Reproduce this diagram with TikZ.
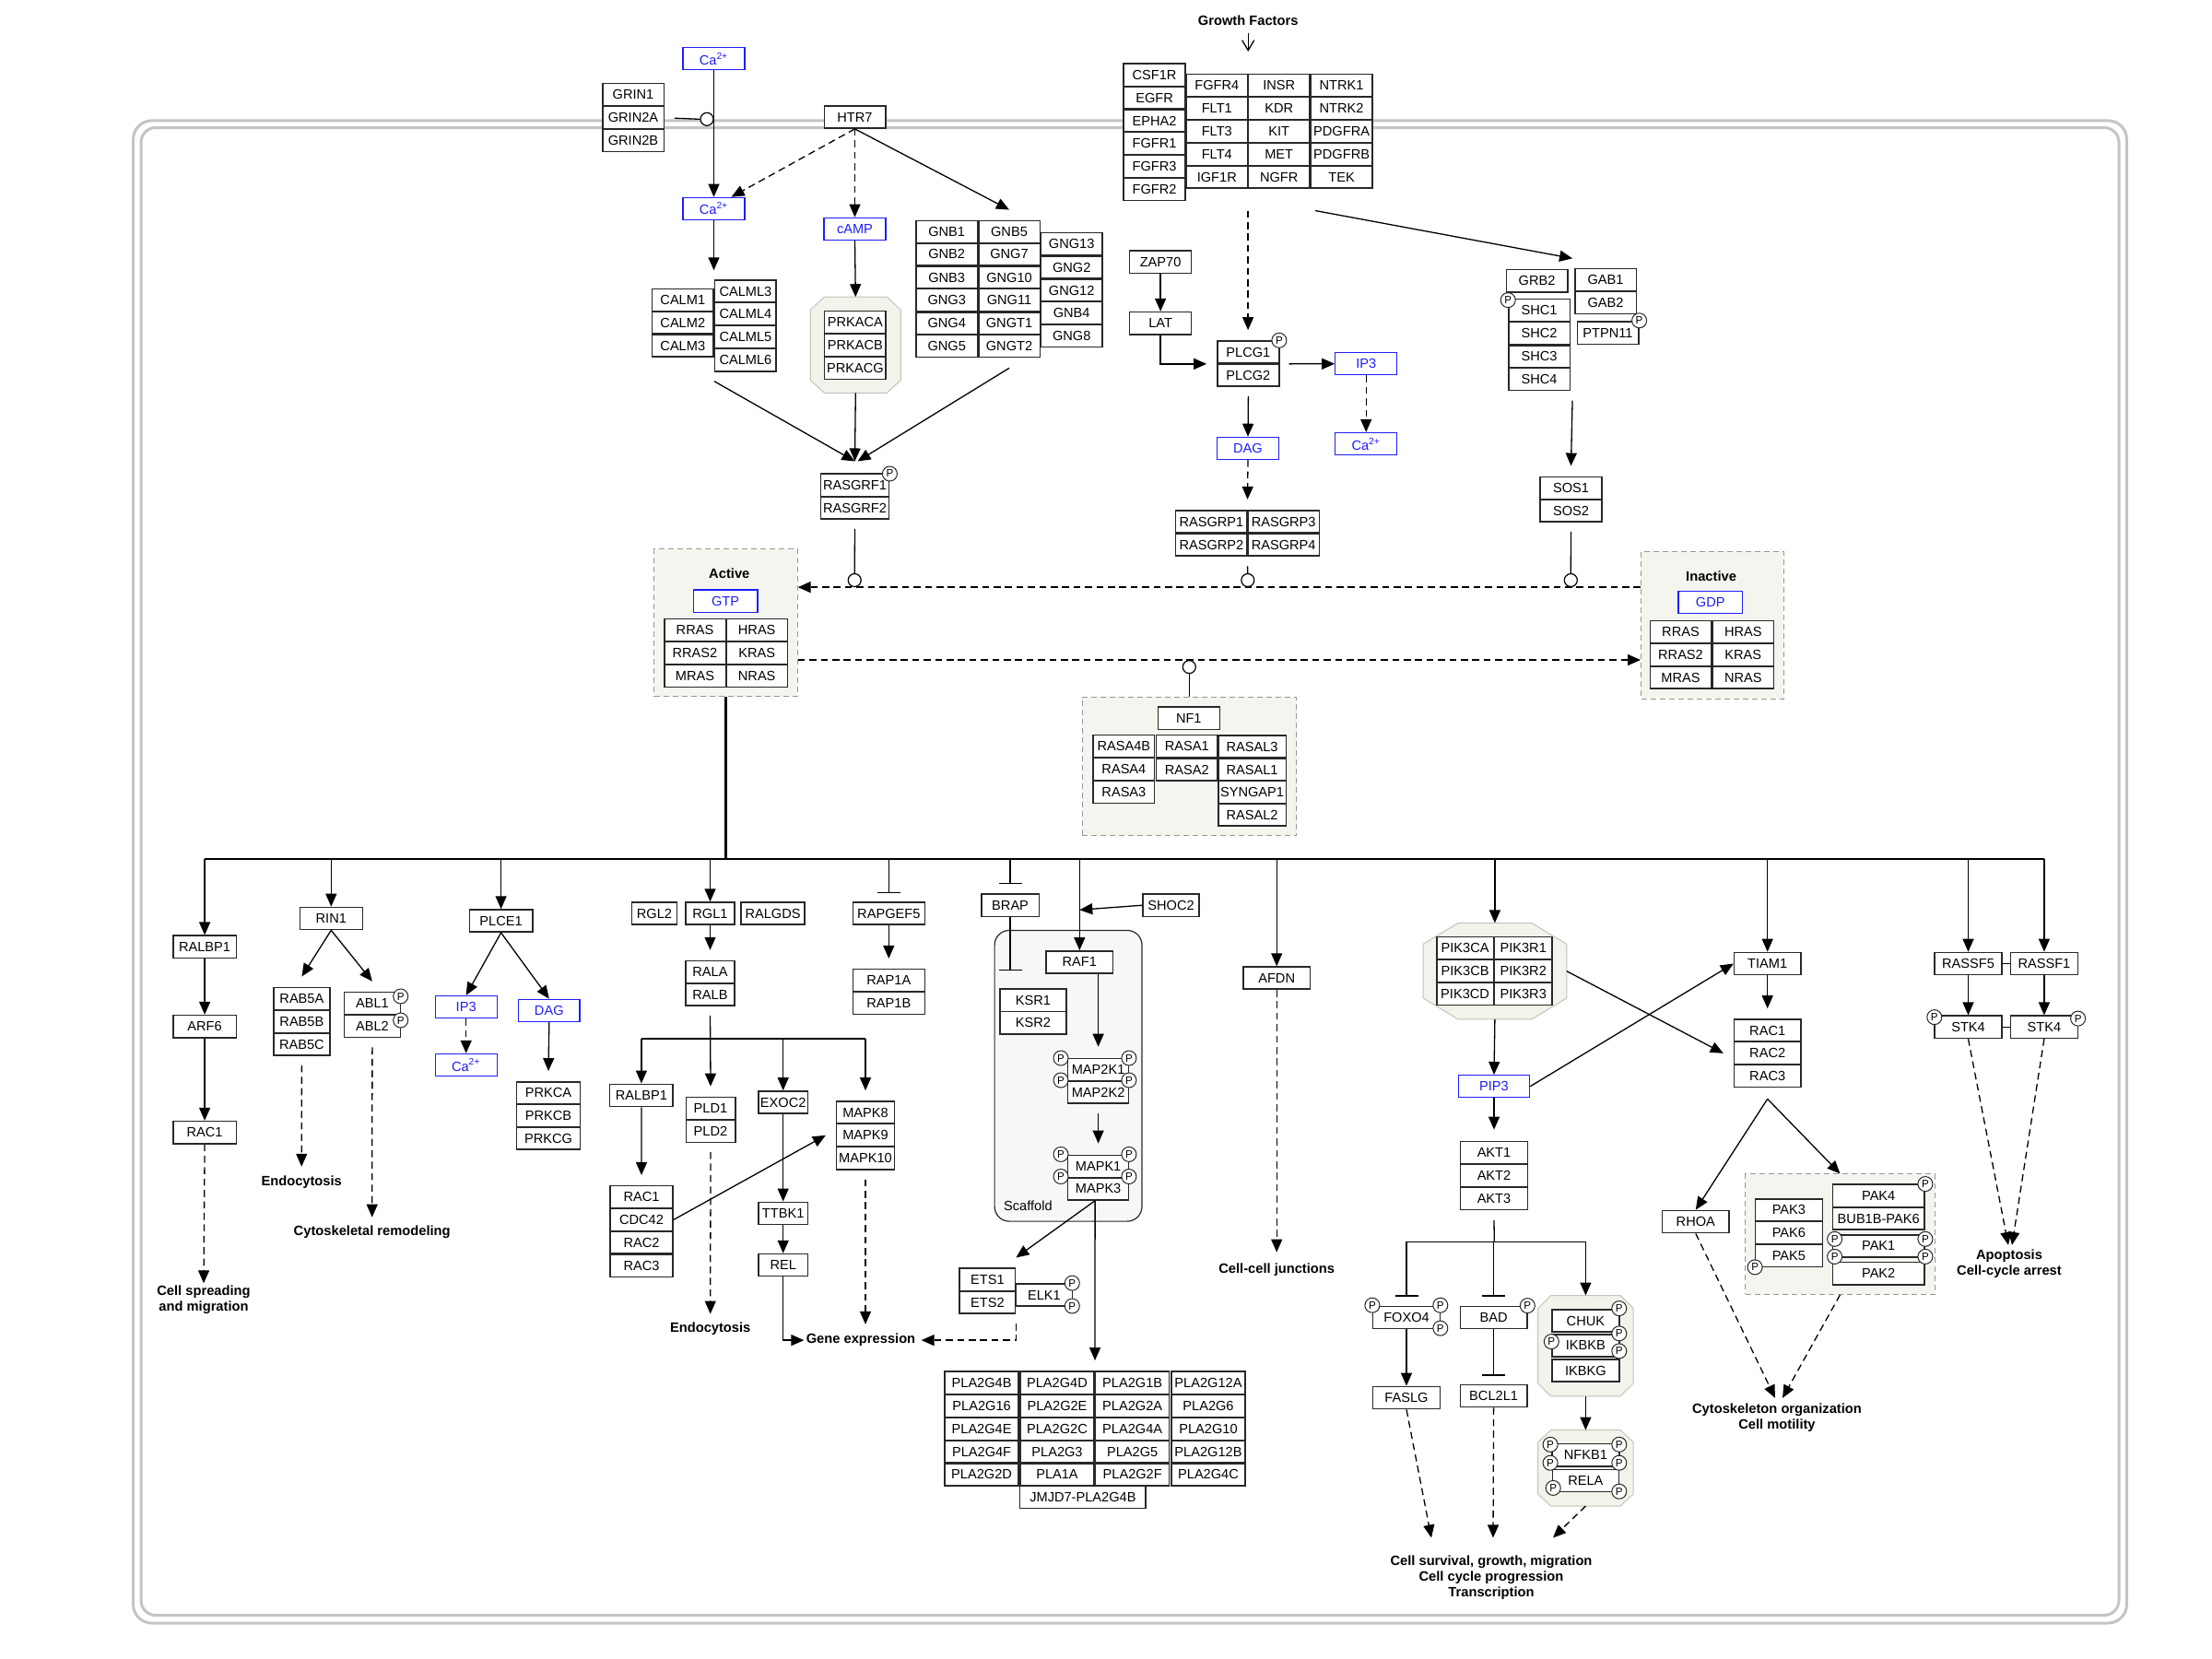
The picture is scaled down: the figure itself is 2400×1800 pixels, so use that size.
\documentclass[tikz,border=0pt]{standalone}
\usepackage{fontspec}
\setmainfont{Liberation Sans}
\usetikzlibrary{arrows.meta,fit,calc}

\definecolor{metab}{RGB}{30,30,250}
\definecolor{membrane}{RGB}{196,196,196}
\definecolor{grpfill}{RGB}{245,245,240}
\definecolor{grpline}{RGB}{150,150,150}
\definecolor{cpxfill}{RGB}{243,243,236}
\definecolor{cpxline}{RGB}{195,195,188}
\definecolor{scafill}{RGB}{247,247,247}
\definecolor{boxline}{RGB}{40,40,40}

\newcommand\gfont{\fontsize{7.3}{8.4}\selectfont}
\newcommand\lfont{\fontsize{7.35}{8.4}\selectfont\bfseries}
\newcommand\caion{Ca\textsuperscript{2+}}

\tikzset{
  gbox/.style={draw=boxline, line width=0.75pt, fill=white, inner sep=0pt,
    minimum height=12.1pt, minimum width={#1*0.5pt}, font=\gfont},
  gbox/.default=66.5,
  mbox/.style={gbox=#1, draw=metab, text=metab, line width=0.6pt},
  mbox/.default=67,
  lbl/.style={font=\lfont, align=center, inner sep=1pt},
  pcirc/.style={circle, draw=boxline, line width=0.5pt, fill=white, inner sep=0pt,
    minimum size=8pt, font=\fontsize{5.8}{6}\selectfont},
  ocirc/.style={circle, draw=black, line width=0.6pt, fill=white, inner sep=0pt, minimum size=7pt},
  conn/.style={line width=0.65pt, draw=black},
  arr/.style={conn, -{Triangle[length=7pt,width=6pt]}},
  darr/.style={arr, dash pattern=on 3.8pt off 2.4pt},
  inh/.style={conn, -{Bar[width=12.5pt]}},
  grpstyle/.style={draw=grpline, fill=grpfill, line width=0.5pt, dash pattern=on 3pt off 2pt, inner sep=0pt},
  cpxstyle/.style={draw=cpxline, fill=cpxfill, line width=0.5pt},
}

% octagonal complex background with a named frame node
\newcommand\cplxbox[7]{%
  \coordinate (#1-a) at (#2,#3);
  \coordinate (#1-b) at (#4,#5);
  \node[fit=(#1-a)(#1-b), inner sep=0pt] (#1) {};
  \filldraw[cpxstyle] ($(#1.north west)+(#6,0)$) -- ($(#1.north east)+(-#6,0)$)
    -- ($(#1.north east)+(0,#7)$) -- ($(#1.south east)+(0,-#7)$)
    -- ($(#1.south east)+(-#6,0)$) -- ($(#1.south west)+(#6,0)$)
    -- ($(#1.south west)+(0,-#7)$) -- ($(#1.north west)+(0,#7)$) -- cycle;}
% dashed group box
\newcommand\grpbox[5]{%
  \coordinate (#1-a) at (#2,#3);
  \coordinate (#1-b) at (#4,#5);
  \node[grpstyle, fit=(#1-a)(#1-b)] (#1) {};}
% phosphorylation mark
\newcommand\phos[3]{\node[pcirc] (#1) at (#2,#3) {P};}

\begin{document}
\begin{tikzpicture}[x=0.5pt, y=-0.5pt]
\useasboundingbox (0,0) rectangle (2400,1800);

% ---------- cell membrane ----------
\draw[membrane, line width=1.5pt, rounded corners=10pt] (144.6,130.9) rectangle (2307.4,1761);
\draw[membrane, line width=1.5pt, rounded corners=8pt] (153,138.5) rectangle (2299,1752.5);

% ---------- backgrounds ----------
\grpbox{active}{709.8}{595.8}{865.2}{755.7}
\grpbox{inactive}{1780.5}{598}{1935.1}{758}
\grpbox{gapgrp}{1174}{756.1}{1406.6}{906.9}
\grpbox{pakgrp}{1893.8}{1273.9}{2099.2}{1404.3}
\coordinate (scf-a) at (1079.1,1009.4);
\coordinate (scf-b) at (1239,1325.1);
\node[draw=boxline, line width=0.6pt, fill=scafill, rounded corners=8pt, inner sep=0pt,
  fit=(scf-a)(scf-b)] (scaffold) {};
\node[font=\gfont, inner sep=0pt] (scaflbl) at (1115.4,1308.3) {Scaffold};
\cplxbox{prkcx}{879.7}{322.6}{976.9}{425.9}{15}{14}
\cplxbox{pik3}{1544.4}{1001.8}{1699.4}{1105.5}{38}{23}
\cplxbox{chukcx}{1669.1}{1405.9}{1771.7}{1514.5}{14}{14}
\cplxbox{nfkbcx}{1669.1}{1552}{1771.7}{1633.6}{14}{13}

% ---------- top left: calcium, HTR7 ----------
\node[mbox] (ca1) at (774.5,63.7) {\caion};
\node[gbox] (grin1) at (687,102.7) {GRIN1};
\node[gbox] (grin2a) at (687,127.8) {GRIN2A};
\node[gbox] (grin2b) at (687,152.4) {GRIN2B};
\node[gbox] (htr7) at (927.5,127) {HTR7};
\node[mbox] (ca2) at (774.5,226.4) {\caion};
\node[mbox] (camp) at (927.5,248.3) {cAMP};
\node[gbox] (calm1) at (740.8,325.4) {CALM1};
\node[gbox] (calm2) at (740.8,350.1) {CALM2};
\node[gbox] (calm3) at (740.8,375) {CALM3};
\node[gbox] (calml3) at (808.9,316.1) {CALML3};
\node[gbox] (calml4) at (808.9,340.6) {CALML4};
\node[gbox] (calml5) at (808.9,365.8) {CALML5};
\node[gbox] (calml6) at (808.9,390.8) {CALML6};
\node[gbox] (prkaca) at (927.9,349.7) {PRKACA};
\node[gbox] (prkacb) at (927.9,374.8) {PRKACB};
\node[gbox] (prkacg) at (927.9,399.5) {PRKACG};
\node[gbox] (gnb1) at (1027.2,251.4) {GNB1};
\node[gbox] (gnb2) at (1027.2,275.9) {GNB2};
\node[gbox] (gnb3) at (1027.2,301.1) {GNB3};
\node[gbox] (gng3) at (1027.2,325.6) {GNG3};
\node[gbox] (gng4) at (1027.2,350.9) {GNG4};
\node[gbox] (gng5) at (1027.2,375.5) {GNG5};
\node[gbox] (gnb5) at (1095,251.4) {GNB5};
\node[gbox] (gng7) at (1095,275.9) {GNG7};
\node[gbox] (gng10) at (1095,301.1) {GNG10};
\node[gbox] (gng11) at (1095,325.6) {GNG11};
\node[gbox] (gngt1) at (1095,350.9) {GNGT1};
\node[gbox] (gngt2) at (1095,375.5) {GNGT2};
\node[gbox] (gng13) at (1162.7,264.8) {GNG13};
\node[gbox] (gng2) at (1162.7,290) {GNG2};
\node[gbox] (gng12) at (1162.7,315) {GNG12};
\node[gbox] (gnb4) at (1162.7,339.8) {GNB4};
\node[gbox] (gng8) at (1162.7,364.3) {GNG8};
\node[gbox=74.3] (rasgrf1) at (927.5,526.3) {RASGRF1};
\node[gbox=74.3] (rasgrf2) at (927.5,551) {RASGRF2};
\phos{p-rasgrf1}{965.4}{514}

% ---------- top centre: receptor tyrosine kinases ----------
\node[lbl] (gf) at (1354.2,22.2) {Growth Factors};
\node[gbox=67] (csf1r) at (1252.6,81.2) {CSF1R};
\node[gbox=67] (egfr) at (1252.6,106) {EGFR};
\node[gbox=67] (epha2) at (1252.6,130.9) {EPHA2};
\node[gbox=67] (fgfr1) at (1252.6,155.7) {FGFR1};
\node[gbox=67] (fgfr3) at (1252.6,180.3) {FGFR3};
\node[gbox=67] (fgfr2) at (1252.6,205.3) {FGFR2};
\node[gbox=67] (fgfr4) at (1320.3,92.6) {FGFR4};
\node[gbox=67] (flt1) at (1320.3,117.5) {FLT1};
\node[gbox=67] (flt3) at (1320.3,142.4) {FLT3};
\node[gbox=67] (flt4) at (1320.3,167.2) {FLT4};
\node[gbox=67] (igf1r) at (1320.3,192.1) {IGF1R};
\node[gbox=67] (insr) at (1387.7,92.6) {INSR};
\node[gbox=67] (kdr) at (1387.7,117.5) {KDR};
\node[gbox=67] (kit) at (1387.7,142.4) {KIT};
\node[gbox=67] (met) at (1387.7,167.2) {MET};
\node[gbox=67] (ngfr) at (1387.7,192.1) {NGFR};
\node[gbox=67] (ntrk1) at (1455.6,92.6) {NTRK1};
\node[gbox=67] (ntrk2) at (1455.6,117.5) {NTRK2};
\node[gbox=67] (pdgfra) at (1455.6,142.4) {PDGFRA};
\node[gbox=67] (pdgfrb) at (1455.6,167.2) {PDGFRB};
\node[gbox=67] (tek) at (1455.6,192.1) {TEK};
\node[fit=(csf1r)(fgfr2)(ntrk1)(tek), inner sep=0pt] (rtk) {};

\node[gbox=67] (zap70) at (1259.1,284.3) {ZAP70};
\node[gbox=67] (lat) at (1259.1,350.7) {LAT};
\node[gbox=67] (plcg1) at (1354.4,382) {PLCG1};
\node[gbox=67] (plcg2) at (1354.4,407) {PLCG2};
\phos{p-plcg1}{1387.9}{369.3}
\node[mbox] (ip3r) at (1482.2,394.7) {IP3};
\node[mbox] (car) at (1482.2,481.6) {\caion};
\node[mbox] (dagr) at (1354,486.4) {DAG};
\node[gbox=77.5] (rasgrp1) at (1314.4,566.1) {RASGRP1};
\node[gbox=77.5] (rasgrp3) at (1392.7,566.1) {RASGRP3};
\node[gbox=77.5] (rasgrp2) at (1314.4,591) {RASGRP2};
\node[gbox=77.5] (rasgrp4) at (1392.7,591) {RASGRP4};
\node[fit=(rasgrp1)(rasgrp4), inner sep=0pt] (rasgrp) {};

% ---------- adaptors ----------
\node[gbox] (grb2) at (1667.6,304.8) {GRB2};
\node[gbox] (shc1) at (1670.1,336.7) {SHC1};
\node[gbox] (shc2) at (1670.1,361.6) {SHC2};
\node[gbox] (shc3) at (1670.1,386.9) {SHC3};
\node[gbox] (shc4) at (1670.1,411.4) {SHC4};
\phos{p-shc1}{1636.2}{325.6}
\node[gbox] (gab1) at (1742,303.6) {GAB1};
\node[gbox] (gab2) at (1742,328.3) {GAB2};
\node[gbox] (ptpn11) at (1744.5,361.2) {PTPN11};
\phos{p-ptpn11}{1778.6}{347.8}
\node[fit=(grb2)(shc4)(gab1)(ptpn11), inner sep=0pt] (adaptor) {};
\node[gbox=67] (sos1) at (1704.5,529.4) {SOS1};
\node[gbox=67] (sos2) at (1704.5,554.1) {SOS2};

% ---------- RAS cycle ----------
\node[lbl] (actlbl) at (791.3,621.8) {Active};
\node[mbox=69.6] (gtp) at (787.1,652) {GTP};
\node[gbox] (rrasA) at (754,683.5) {RRAS};
\node[gbox] (hrasA) at (821.2,683.5) {HRAS};
\node[gbox] (rras2A) at (754,708.5) {RRAS2};
\node[gbox] (krasA) at (821.2,708.5) {KRAS};
\node[gbox] (mrasA) at (754,733.3) {MRAS};
\node[gbox] (nrasA) at (821.2,733.3) {NRAS};
\node[lbl] (inactlbl) at (1856.6,624.9) {Inactive};
\node[mbox=69.7] (gdp) at (1855.8,653.5) {GDP};
\node[gbox] (rrasI) at (1823.5,685.5) {RRAS};
\node[gbox] (hrasI) at (1891.3,685.5) {HRAS};
\node[gbox] (rras2I) at (1823.5,710.2) {RRAS2};
\node[gbox] (krasI) at (1891.3,710.2) {KRAS};
\node[gbox] (mrasI) at (1823.5,735) {MRAS};
\node[gbox] (nrasI) at (1891.3,735) {NRAS};
\node[gbox=67] (nf1) at (1289.8,779.2) {NF1};
\node[gbox] (rasa4b) at (1219.4,809.7) {RASA4B};
\node[gbox] (rasa4) at (1219.4,834.5) {RASA4};
\node[gbox] (rasa3) at (1219.4,859.5) {RASA3};
\node[gbox] (rasa1) at (1287.8,809.7) {RASA1};
\node[gbox] (rasa2) at (1287.8,835) {RASA2};
\node[gbox=73.5] (rasal3) at (1358.5,810) {RASAL3};
\node[gbox=73.5] (rasal1) at (1358.5,835) {RASAL1};
\node[gbox=73.5] (syngap1) at (1358.5,859.5) {SYNGAP1};
\node[gbox=73.5] (rasal2) at (1358.5,884.1) {RASAL2};
\node[ocirc] (c1) at (927.2,629.5) {};
\node[ocirc] (c2) at (1353.8,629.5) {};
\node[ocirc] (c3) at (1704.3,629.5) {};
\node[ocirc] (c4) at (1290.3,723.6) {};
\node[ocirc] (c0) at (767,129.3) {};
\coordinate (bus) at (221.9,931.8);

% ---------- effectors, left ----------
\node[gbox=68.5] (ralbp1a) at (222.1,1027.3) {RALBP1};
\node[gbox=68.5] (arf6) at (222.1,1113.7) {ARF6};
\node[gbox=68.5] (rac1a) at (222.1,1228.7) {RAC1};
\node[lbl] (spread) at (221,1410) {Cell spreading\\and migration};
\node[gbox=68] (rin1) at (359.3,996.5) {RIN1};
\node[gbox=61] (rab5a) at (327.4,1083.4) {RAB5A};
\node[gbox=61] (rab5b) at (327.4,1108.2) {RAB5B};
\node[gbox=61] (rab5c) at (327.4,1133) {RAB5C};
\node[gbox=60.8] (abl1) at (403.9,1088.6) {ABL1};
\node[gbox=60.8] (abl2) at (403.9,1113.6) {ABL2};
\phos{p-abl1}{434.7}{1081}
\phos{p-abl2}{434.7}{1107}
\node[lbl] (endoA) at (327.2,1283) {Endocytosis};
\node[lbl] (cytorem) at (403.7,1337) {Cytoskeletal remodeling};
\node[gbox=68.5] (plce1) at (543.6,999.1) {PLCE1};
\node[mbox] (ip3l) at (505.7,1092.6) {IP3};
\node[mbox] (cal) at (505.7,1155.5) {\caion};
\node[mbox=66.5] (dagl) at (595.8,1096.3) {DAG};
\node[gbox=69] (prkca) at (595,1185.9) {PRKCA};
\node[gbox=69] (prkcb) at (595,1210.7) {PRKCB};
\node[gbox=69] (prkcg) at (595,1235) {PRKCG};

\node[gbox=48.6] (rgl2) at (710,991.1) {RGL2};
\node[gbox=53.2] (rgl1) at (770.5,991.1) {RGL1};
\node[gbox=69.2] (ralgds) at (838.6,991.1) {RALGDS};
\node[gbox=53.2] (rala) at (770.5,1054.6) {RALA};
\node[gbox=53.2] (ralb) at (770.5,1079.1) {RALB};
\node[gbox=68.5] (ralbp1b) at (695.9,1188.4) {RALBP1};
\node[gbox=53.5] (pld1) at (771,1202.5) {PLD1};
\node[gbox=53.5] (pld2) at (771,1227.2) {PLD2};
\node[gbox=53.2] (exoc2) at (849.7,1196) {EXOC2};
\node[gbox=62.7] (mapk8) at (939,1207) {MAPK8};
\node[gbox=62.7] (mapk9) at (939,1231.8) {MAPK9};
\node[gbox=62.7] (mapk10) at (939,1256.7) {MAPK10};
\node[gbox=68.1] (rac1b) at (696,1298.8) {RAC1};
\node[gbox=68.1] (cdc42) at (696,1323.4) {CDC42};
\node[gbox=68.1] (rac2b) at (696,1348.1) {RAC2};
\node[gbox=68.1] (rac3b) at (696,1373.2) {RAC3};
\node[gbox=53.2] (ttbk1) at (849.7,1316.4) {TTBK1};
\node[gbox=53.2] (rel) at (849.7,1372.6) {REL};
\node[lbl] (endoB) at (770.7,1441.8) {Endocytosis};
\node[lbl] (geneexp) at (934,1454.1) {Gene expression};

\node[gbox=78] (rapgef5) at (964.3,991.1) {RAPGEF5};
\node[gbox=78] (rap1a) at (964.3,1063.8) {RAP1A};
\node[gbox=78] (rap1b) at (964.3,1088.3) {RAP1B};

% ---------- MAPK cascade ----------
\node[gbox=62.4] (brap) at (1096.1,982.2) {BRAP};
\node[gbox=60.8] (shoc2) at (1270.6,982.2) {SHOC2};
\node[gbox=72.8] (raf1) at (1171.3,1043.9) {RAF1};
\node[gbox=72.4] (ksr1) at (1121,1085.2) {KSR1};
\node[gbox=72.4] (ksr2) at (1121,1109.7) {KSR2};
\node[gbox=65.8] (map2k1) at (1191.6,1160.5) {MAP2K1};
\node[gbox=65.8] (map2k2) at (1191.6,1185) {MAP2K2};
\phos{p-map2k1a}{1151}{1148}
\phos{p-map2k1b}{1224.9}{1148}
\phos{p-map2k2a}{1151}{1172}
\phos{p-map2k2b}{1224.9}{1172}
\node[gbox=65.8] (mapk1) at (1191.6,1265.4) {MAPK1};
\node[gbox=65.8] (mapk3) at (1191.6,1289.9) {MAPK3};
\phos{p-mapk1a}{1151}{1252.4}
\phos{p-mapk1b}{1224.9}{1252.4}
\phos{p-mapk3a}{1151}{1276.5}
\phos{p-mapk3b}{1224.9}{1276.5}
\node[gbox=60.5] (ets1) at (1071.4,1388.3) {ETS1};
\node[gbox=60.5] (ets2) at (1071.4,1413.1) {ETS2};
\node[gbox=61] (elk1) at (1132.9,1405.1) {ELK1};
\phos{p-elk1a}{1163.3}{1392.1}
\phos{p-elk1b}{1163.3}{1417}

\node[gbox=80] (pla2g4b) at (1065.1,1500.3) {PLA2G4B};
\node[gbox=80] (pla2g16) at (1065.1,1525.3) {PLA2G16};
\node[gbox=80] (pla2g4e) at (1065.1,1550.2) {PLA2G4E};
\node[gbox=80] (pla2g4f) at (1065.1,1575) {PLA2G4F};
\node[gbox=80] (pla2g2d) at (1065.1,1599.9) {PLA2G2D};
\node[gbox=80] (pla2g4d) at (1147,1500.3) {PLA2G4D};
\node[gbox=80] (pla2g2e) at (1147,1525.3) {PLA2G2E};
\node[gbox=80] (pla2g2c) at (1147,1550.2) {PLA2G2C};
\node[gbox=80] (pla2g3) at (1147,1575) {PLA2G3};
\node[gbox=80] (pla1a) at (1147,1599.9) {PLA1A};
\node[gbox=80] (pla2g1b) at (1228.7,1500.3) {PLA2G1B};
\node[gbox=80] (pla2g2a) at (1228.7,1525.3) {PLA2G2A};
\node[gbox=80] (pla2g4a) at (1228.7,1550.2) {PLA2G4A};
\node[gbox=80] (pla2g5) at (1228.7,1575) {PLA2G5};
\node[gbox=80] (pla2g2f) at (1228.7,1599.9) {PLA2G2F};
\node[gbox=80] (pla2g12a) at (1311,1500.3) {PLA2G12A};
\node[gbox=80] (pla2g6) at (1311,1525.3) {PLA2G6};
\node[gbox=80] (pla2g10) at (1311,1550.2) {PLA2G10};
\node[gbox=80] (pla2g12b) at (1311,1575) {PLA2G12B};
\node[gbox=80] (pla2g4c) at (1311,1599.9) {PLA2G4C};
\node[gbox=136.6] (jmjd7) at (1174.9,1624.5) {JMJD7-PLA2G4B};
\node[fit=(pla2g4b)(pla2g12a)(pla2g2d)(jmjd7), inner sep=0pt] (pla2) {};

% ---------- effectors, right ----------
\node[gbox=72.7] (afdn) at (1385.2,1061.1) {AFDN};
\node[lbl] (junctions) at (1385.2,1377.9) {Cell-cell junctions};
\node[gbox=61.3] (pik3ca) at (1589.6,1028.8) {PIK3CA};
\node[gbox=61.3] (pik3cb) at (1589.6,1053.6) {PIK3CB};
\node[gbox=61.3] (pik3cd) at (1589.6,1078.5) {PIK3CD};
\node[gbox=62.7] (pik3r1) at (1652.7,1028.8) {PIK3R1};
\node[gbox=62.7] (pik3r2) at (1652.7,1053.6) {PIK3R2};
\node[gbox=62.7] (pik3r3) at (1652.7,1078.5) {PIK3R3};
\node[mbox=77.3] (pip3) at (1621,1178.7) {PIP3};
\node[gbox=72.7] (akt1) at (1621,1250.5) {AKT1};
\node[gbox=72.7] (akt2) at (1621,1275.4) {AKT2};
\node[gbox=72.7] (akt3) at (1621,1300.2) {AKT3};
\node[gbox=72.7] (foxo4) at (1526,1429.4) {FOXO4};
\phos{p-foxo4a}{1488.9}{1416.2}
\phos{p-foxo4b}{1562.8}{1416.2}
\phos{p-foxo4c}{1562.8}{1441.1}
\node[gbox=72.7] (bad) at (1620.6,1429.4) {BAD};
\phos{p-bad}{1657.3}{1416.6}
\node[gbox=72.7] (fasl) at (1526,1516.5) {FASLG};
\node[gbox=72.7] (bcl2l1) at (1620.6,1514.5) {BCL2L1};
\node[gbox=72.8] (chuk) at (1720.4,1433) {CHUK};
\node[gbox=72.8] (ikbkb) at (1720.4,1459.9) {IKBKB};
\node[gbox=72.8] (ikbkg) at (1720.4,1487) {IKBKG};
\phos{p-chuk}{1756.8}{1419.6}
\phos{p-ikbkba}{1756.8}{1446.8}
\phos{p-ikbkbb}{1683.3}{1455.6}
\phos{p-ikbkbc}{1756.8}{1465.9}
\node[gbox=72.8] (nfkb1) at (1720.4,1578.8) {NFKB1};
\node[gbox=72] (rela) at (1720.4,1606.6) {RELA};
\phos{p-nfkb1a}{1682.1}{1567.3}
\phos{p-nfkb1b}{1756.8}{1567.3}
\phos{p-nfkb1c}{1682.1}{1587.2}
\phos{p-nfkb1d}{1756.8}{1587.2}
\phos{p-relaa}{1685.2}{1614.4}
\phos{p-relab}{1756.8}{1618.2}
\node[lbl] (surv) at (1618,1711.5) {Cell survival, growth, migration\\Cell cycle progression\\Transcription};

\node[gbox=72.3] (tiam1) at (1917.7,1045.5) {TIAM1};
\node[gbox=72.3] (rac1c) at (1917.7,1118) {RAC1};
\node[gbox=72.3] (rac2c) at (1917.7,1142.8) {RAC2};
\node[gbox=72.3] (rac3c) at (1917.7,1167.5) {RAC3};
\node[gbox=72.7] (rhoa) at (1839.8,1325.5) {RHOA};
\node[gbox=72.7] (pak3) at (1940.9,1312.9) {PAK3};
\node[gbox=72.7] (pak6) at (1940.9,1337.7) {PAK6};
\node[gbox=72.7] (pak5) at (1940.9,1362.6) {PAK5};
\phos{p-pak5}{1904.1}{1374.9}
\node[gbox=99.8] (pak4) at (2038.2,1297.2) {PAK4};
\node[gbox=99.8] (bub1b) at (2038.2,1322.1) {BUB1B-PAK6};
\node[gbox=99.8] (pak1) at (2038.2,1351.9) {PAK1};
\node[gbox=99.8] (pak2) at (2038.2,1381.8) {PAK2};
\phos{p-pak4}{2088.9}{1284.6}
\phos{p-pak1a}{1990.6}{1344.3}
\phos{p-pak1b}{2088.9}{1344.3}
\phos{p-pak1c}{1990.6}{1363.4}
\phos{p-pak1d}{2088.9}{1363.4}
\node[lbl] (cyto) at (1928,1538.5) {Cytoskeleton organization\\Cell motility};

\node[gbox=72.7] (rassf5) at (2135.5,1045.5) {RASSF5};
\node[gbox=72.7] (rassf1) at (2217.9,1045.5) {RASSF1};
\node[gbox=72.7] (stk4a) at (2135.5,1114.3) {STK4};
\node[gbox=72.7] (stk4b) at (2217.9,1114.3) {STK4};
\phos{p-stk4a}{2098.8}{1103.6}
\phos{p-stk4b}{2254.6}{1105.1}
\node[lbl] (apop) at (2180,1371.5) {Apoptosis\\Cell-cycle arrest};

% ================= connectors =================
% calcium / HTR7
\draw[arr] (ca1.south) -- (ca2.north);
\draw[conn, shorten <=5.5pt] (grin2a.east) -- (c0.west);
\draw[darr] (htr7.south) -- ($(ca2.north east)+(-15,0)$);
\draw[darr] (htr7.south) -- (camp.north);
\draw[arr] (htr7.south) -- ($(gnb5.north)+(0,-11)$);
\draw[arr] (ca2.south) -- ($(ca2.south |- calml3.north)+(0,-10)$);
\draw[arr] (camp.south) -- (prkcx.north);
\draw[arr] ($(calml6.south west)+(0,10)$) -- ($(rasgrf1.north)+(0,-13)$);
\draw[arr] (prkcx.south) -- ($(rasgrf1.north)+(0,-13)$);
\draw[arr] ($(gngt2.south)+(0,11)$) -- ($(rasgrf1.north)+(3,-13)$);
\draw[conn] ($(rasgrf2.south)+(0,10)$) -- (c1.north);

% growth factor receptors
\draw[conn, -{Straight Barb[length=5.5pt,width=6.5pt]}, shorten <=3pt] (gf.south) -- ($(gf.south |- rtk.north)+(0,-12)$);
\draw[darr] ($(rtk.south)+(0,10)$) -- ($(rtk.south |- plcg1.north)+(0,-11)$);
\draw[arr] ($(rtk.south)+(73,10)$) -- ($(adaptor.north)+(0,-10)$);
\draw[arr] (zap70.south) -- (lat.north);
\draw[arr] (lat.south) |- ($(plcg1.south west)+(-11,0)$);
\draw[arr] ($(plcg1.south east)+(10,0)$) -- (ip3r.west);
\draw[darr] (ip3r.south) -- (car.north);
\draw[arr] ($(plcg2.south)+(0,10)$) -- (dagr.north);
\draw[darr] (dagr.south) -- ($(rasgrp.north)+(0,-11)$);
\draw[conn] ($(rasgrp.south)+(0,10)$) -- (c2.north);
\draw[arr] ($(adaptor.south)+(0,10)$) -- ($(sos1.north)+(0,-11)$);
\draw[conn] ($(sos2.south)+(0,10)$) -- (c3.north);

% RAS GDP/GTP cycle
\draw[darr] (inactive.west |- c1.south) -- (active.east |- c1.south);
\draw[darr] (active.east |- c4.north) -- (inactive.west |- c4.north);
\draw[conn] (gapgrp.north) -- (c4.south);

% RAS effector bus
\draw[conn, line width=1.1pt] (active.south) -- (active.south |- bus);
\draw[conn, line width=1.1pt] (ralbp1a.north |- bus) -- (rassf1.north |- bus);
\draw[arr] (ralbp1a.north |- bus) -- (ralbp1a.north);
\draw[arr] (rin1.north |- bus) -- (rin1.north);
\draw[arr] (plce1.north |- bus) -- (plce1.north);
\draw[arr] (rgl1.north |- bus) -- (rgl1.north);
\draw[inh, shorten >=4.6pt] (rapgef5.north |- bus) -- (rapgef5.north);
\draw[inh, shorten >=5pt] (brap.north |- bus) -- (brap.north);
\draw[arr] (raf1.north |- bus) -- (raf1.north);
\draw[arr] (afdn.north |- bus) -- (afdn.north);
\draw[arr] (pik3.north |- bus) -- (pik3.north);
\draw[arr] (tiam1.north |- bus) -- (tiam1.north);
\draw[arr] (rassf5.north |- bus) -- (rassf5.north);
\draw[arr] (rassf1.north |- bus) -- (rassf1.north);

% RALBP1 / RIN1 / PLCE1
\draw[arr] (ralbp1a.south) -- (arf6.north);
\draw[arr] (arf6.south) -- (rac1a.north);
\draw[darr] (rac1a.south) -- (spread.north);
\draw[arr] (rin1.south) -- ($(rab5a.north)+(0,-11)$);
\draw[arr] (rin1.south) -- ($(abl1.north)+(0,-11)$);
\draw[darr, shorten >=4pt] ($(rab5c.south)+(0,10)$) -- (endoA.north);
\draw[darr, shorten >=3.5pt] ($(abl2.south)+(0,10)$) -- (cytorem.north);
\draw[arr] (plce1.south) -- (ip3l.north);
\draw[arr] (plce1.south) -- (dagl.north);
\draw[darr] (ip3l.south) -- (cal.north);
\draw[arr] (dagl.south) -- ($(prkca.north)+(0,-11)$);

% RAL GEFs
\draw[arr] (rgl1.south) -- ($(rala.north)+(0,-11)$);
\coordinate (ralj) at (770.7,1126.9);
\draw[conn] ($(ralb.south)+(0,10)$) -- (ralj);
\draw[conn] (ralbp1b.north |- ralj) -- (mapk8.north |- ralj);
\draw[arr] (ralbp1b.north |- ralj) -- (ralbp1b.north);
\draw[arr] (ralj) -- ($(pld1.north)+(0,-11)$);
\draw[arr] (exoc2.north |- ralj) -- (exoc2.north);
\draw[arr] (mapk8.north |- ralj) -- ($(mapk8.north)+(0,-11)$);
\draw[arr] (ralbp1b.south) -- ($(rac1b.north)+(0,-11)$);
\draw[arr] (cdc42.east) -- ($(mapk9.west)+(-11,0)$);
\draw[darr, shorten >=3.5pt] ($(pld2.south)+(0,10)$) -- (endoB.north);
\draw[arr] (exoc2.south) -- (ttbk1.north);
\draw[arr] (ttbk1.south) -- (rel.north);
\draw[arr] (rel.south) |- (geneexp.west);
\draw[darr, shorten >=4pt] ($(mapk10.south)+(0,10)$) -- (mapk10.south |- geneexp.north);
\draw[darr, shorten >=2pt] ($(ets2.south east)+(0,10)$) |- (geneexp.east);
\draw[arr] (rapgef5.south) -- ($(rap1a.north)+(0,-11)$);

% RAF / MAPK
\draw[inh] (brap.south) -- ($(brap.south |- ksr1.north)+(0,-19.5)$);
\draw[arr] (shoc2.west) -- ($(raf1.north |- shoc2.west)+(0,5)$);
\draw[arr] (map2k1.north |- raf1.south) -- ($(map2k1.north)+(0,-12)$);
\draw[arr] ($(map2k2.south)+(0,10)$) -- ($(mapk1.north)+(0,-12)$);
\draw[arr] ($(mapk3.south)+(-3.5,0)$) -- ($(ets1.north east)+(0,-11)$);
\draw[arr] ($(mapk3.south)+(-3.5,0)$) -- ($(pla2.north)+(0,-11)$);

% AFDN / PI3K / AKT
\draw[darr, shorten >=5pt] (afdn.south) -- (junctions.north);
\draw[arr] (pik3.south) -- (pip3.north);
\draw[arr] (pip3.east) -- (tiam1.west);
\draw[arr] (pik3.east) -- ($(rac2c.west)+(-11,0)$);
\draw[arr] (pip3.south) -- ($(akt1.north)+(0,-12)$);
\coordinate (aktj) at (1621.3,1347.3);
\draw[conn] ($(akt3.south)+(0,11)$) -- (aktj);
\draw[conn] (foxo4.north |- aktj) -- (chukcx.north |- aktj);
\draw[inh] (foxo4.north |- aktj) -- ($(foxo4.north)+(0,-10)$);
\draw[inh] (bad.north |- aktj) -- ($(bad.north)+(0,-10)$);
\draw[arr] (chukcx.north |- aktj) -- (chukcx.north);
\draw[arr] (foxo4.south) -- (fasl.north);
\draw[inh] (bad.south) -- ($(bcl2l1.north)+(0,-9)$);
\draw[arr] (chukcx.south) -- (nfkbcx.north);
\draw[darr] (fasl.south) -- ($(surv.north)+(-65,-17)$);
\draw[darr] (bcl2l1.south) -- ($(surv.north)+(2,-17)$);
\draw[darr] (nfkbcx.south) -- ($(surv.north)+(67,-17)$);

% TIAM1 / RAC / PAK
\draw[arr] (tiam1.south) -- ($(rac1c.north)+(0,-11)$);
\draw[arr] ($(rac3c.south)+(0,12)$) -- (rhoa.north);
\draw[arr] ($(rac3c.south)+(0,12)$) -- (pakgrp.north);
\draw[darr] (rhoa.south) -- ($(cyto.north)+(-2,-4)$);
\draw[darr] (pakgrp.south) -- ($(cyto.north)+(6,-4)$);

% RASSF / STK4
\draw[arr] (rassf5.south) -- (stk4a.north);
\draw[arr] (rassf1.south) -- (stk4b.north);
\draw[conn] (rassf5.east) -- (rassf1.west);
\draw[conn] (stk4a.east) -- (stk4b.west);
\draw[darr] (stk4a.south) -- ($(apop.north)+(-1,-3)$);
\draw[darr] (stk4b.south) -- ($(apop.north)+(3,-3)$);
\end{tikzpicture}
\end{document}
